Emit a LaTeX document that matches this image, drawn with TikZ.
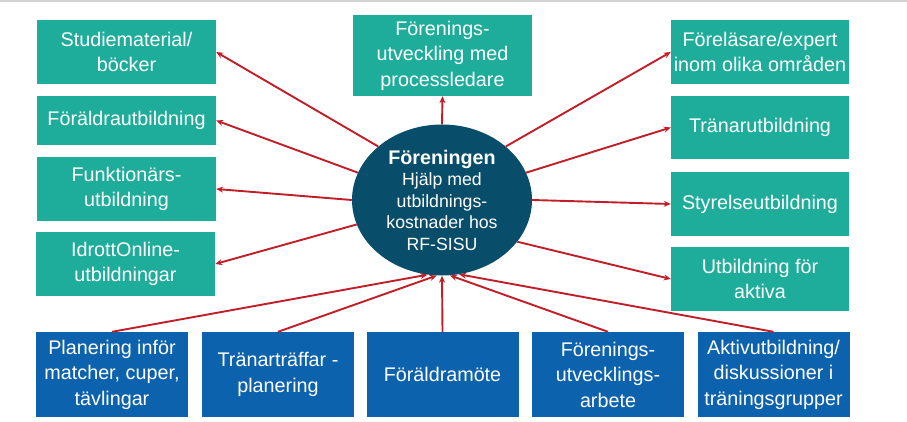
\documentclass[tikz,border=0pt]{standalone}
\usepackage{fontspec}
\setmainfont{Liberation Sans}
\usetikzlibrary{shapes.geometric,arrows.meta}
\definecolor{tealbox}{RGB}{31,173,155}
\definecolor{bluebox}{RGB}{12,98,172}
\definecolor{navyell}{RGB}{8,78,106}
\definecolor{redarr}{RGB}{192,30,40}
\begin{document}
\begin{tikzpicture}[x=1pt,y=-1pt,
  boxtxt/.style={text=white,align=center,inner sep=0pt,
    font=\fontsize{19.75}{25.5}\selectfont},
  tbox/.style={boxtxt,fill=tealbox,rectangle,minimum width=179pt,minimum height=64pt},
  bbox/.style={boxtxt,fill=bluebox,rectangle,minimum width=152pt,minimum height=85pt},
  arr/.style={draw=redarr,line width=1.9pt,-{Stealth[length=7pt,width=6pt]}}]
\useasboundingbox (0,0) rectangle (907,422);
\fill[gray!35] (0,0) rectangle (907,2);
% left column
\node[tbox] (l1) at (126.5,52) {Studiematerial/\\böcker};
\node[tbox,minimum height=49pt] (l2) at (126.5,120.5) {Föräldrautbildning};
\node[tbox] (l3) at (126.5,189) {Funktionärs-\\utbildning};
\node[tbox] (l4) at (125.5,264) {IdrottOnline-\\utbildningar};
% top
\node[tbox,minimum height=81pt] (top) at (442.5,55.5) {Förenings-\\utveckling med\\processledare};
% right column
\node[tbox,minimum width=178pt] (r1) at (760,52) {Föreläsare/expert\\inom olika områden};
\node[tbox,minimum width=178pt,minimum height=63pt] (r2) at (760,127.5) {Tränarutbildning};
\node[tbox,minimum width=178pt] (r3) at (760,204) {Styrelseutbildning};
\node[tbox,minimum width=178pt] (r4) at (760,279) {Utbildning för\\aktiva};
% bottom row
\node[bbox] (b1) at (112,374.5) {Planering inför\\matcher, cuper,\\tävlingar};
\node[bbox] (b2) at (278,374.5) {Tränarträffar -\\planering};
\node[bbox] (b3) at (442.5,374.5) {Föräldramöte};
\node[bbox] (b4) at (608,374.5) {Förenings-\\utvecklings-\\arbete};
\node[bbox] (b5) at (773.5,374.5) {Aktivutbildning/\\diskussioner i\\träningsgrupper};
% center ellipse
\node[ellipse,fill=navyell,minimum width=180pt,minimum height=151pt,inner sep=0pt,
  text=white,align=center,font=\fontsize{17.7}{21.5}\selectfont] (ell) at (442,200)
  {{\fontsize{19.7}{21.5}\selectfont\bfseries Föreningen}\\Hjälp med\\utbildnings-\\kostnader hos\\RF-SISU};
% outward arrows
\draw[arr] (ell.140) -- (l1.east);
\draw[arr] (ell.162) -- (l2.east);
\draw[arr] (ell.180) -- (l3.east);
\draw[arr] (ell.196) -- (l4.east);
\draw[arr] (ell.90) -- (top.south);
\draw[arr] (ell.40) -- (r1.west);
\draw[arr] (ell.18) -- (r2.west);
\draw[arr] (ell.0) -- (r3.west);
\draw[arr] (ell.-29) -- (r4.west);
% inward arrows
\draw[arr] (b1.north) -- (ell.259);
\draw[arr] (b2.north) -- (ell.266);
\draw[arr] (b3.north) -- (ell.270);
\draw[arr] (b4.north) -- (ell.276);
\draw[arr] (b5.north) -- (ell.283);
\end{tikzpicture}
\end{document}
